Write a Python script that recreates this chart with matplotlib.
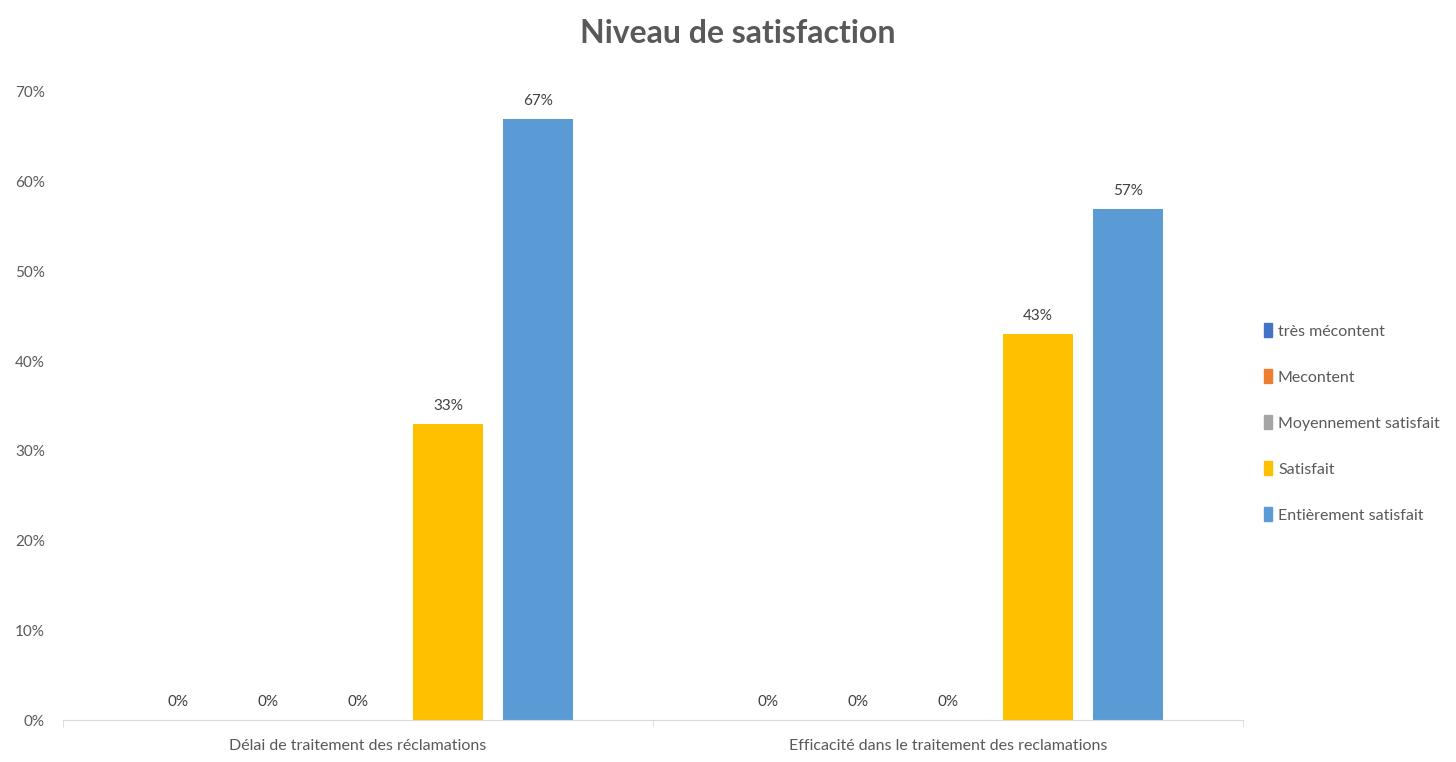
import numpy as np
import matplotlib.pyplot as plt
from matplotlib.patches import Patch

categories = ["Délai de traitement des réclamations",
              "Efficacité dans le traitement des reclamations"]
series = ["très mécontent", "Mecontent", "Moyennement satisfait",
          "Satisfait", "Entièrement satisfait"]
values = {
    "très mécontent": [0, 0],
    "Mecontent": [0, 0],
    "Moyennement satisfait": [0, 0],
    "Satisfait": [0.33, 0.43],
    "Entièrement satisfait": [0.67, 0.57],
}
colors = ["#4472C4", "#ED7D31", "#A5A5A5", "#FFC000", "#5B9BD5"]

plt.rcParams['font.family'] = ['Lato', 'DejaVu Sans']
txt = "#595959"

fig = plt.figure(figsize=(14.56, 7.62), dpi=100)
ax = fig.add_axes([0.0433, 0.0551, 0.8104, 0.8242])

x = np.arange(len(categories))
step = 0.1525
width = 0.1186
for i, (name, col) in enumerate(zip(series, colors)):
    pos = x + (i - 2) * step
    bars = ax.bar(pos, values[name], width, color=col, label=name)
    for b, v in zip(bars, values[name]):
        ax.text(b.get_x() + b.get_width() / 2, v + 0.012, f"{round(v*100)}%",
                ha="center", va="bottom", fontsize=11, color="#404040")

ax.set_xlim(-0.5, 1.5)
ax.set_ylim(0, 0.7)
ax.set_yticks(np.arange(0, 0.71, 0.1))
ax.set_yticklabels([f"{int(round(t*100))}%" for t in np.arange(0, 0.71, 0.1)])
ax.set_xticks(x)
ax.set_xticklabels(categories)
ax.set_xticks([-0.5, 0.5, 1.5], minor=True)
ax.tick_params(axis="x", which="major", length=0, pad=14, labelsize=11.5, labelcolor=txt)
ax.tick_params(axis="x", which="minor", length=5, color="#D9D9D9")
ax.tick_params(axis="y", length=0, pad=13, labelsize=11, labelcolor=txt)
for s in ["top", "right", "left"]:
    ax.spines[s].set_visible(False)
ax.spines["bottom"].set_color("#D9D9D9")

fig.suptitle("Niveau de satisfaction", x=0.507, y=0.975, fontsize=23,
             fontweight="bold", color=txt)

handles = [Patch(color=c, label=s) for s, c in zip(series, colors)]
fig.legend(handles=handles, loc="center left", bbox_to_anchor=(0.858, 0.445),
           frameon=False, fontsize=11.5, labelcolor=txt, handlelength=0.5,
           handleheight=1.0, handletextpad=0.4, labelspacing=1.9)

plt.savefig("out.png", dpi=100)
